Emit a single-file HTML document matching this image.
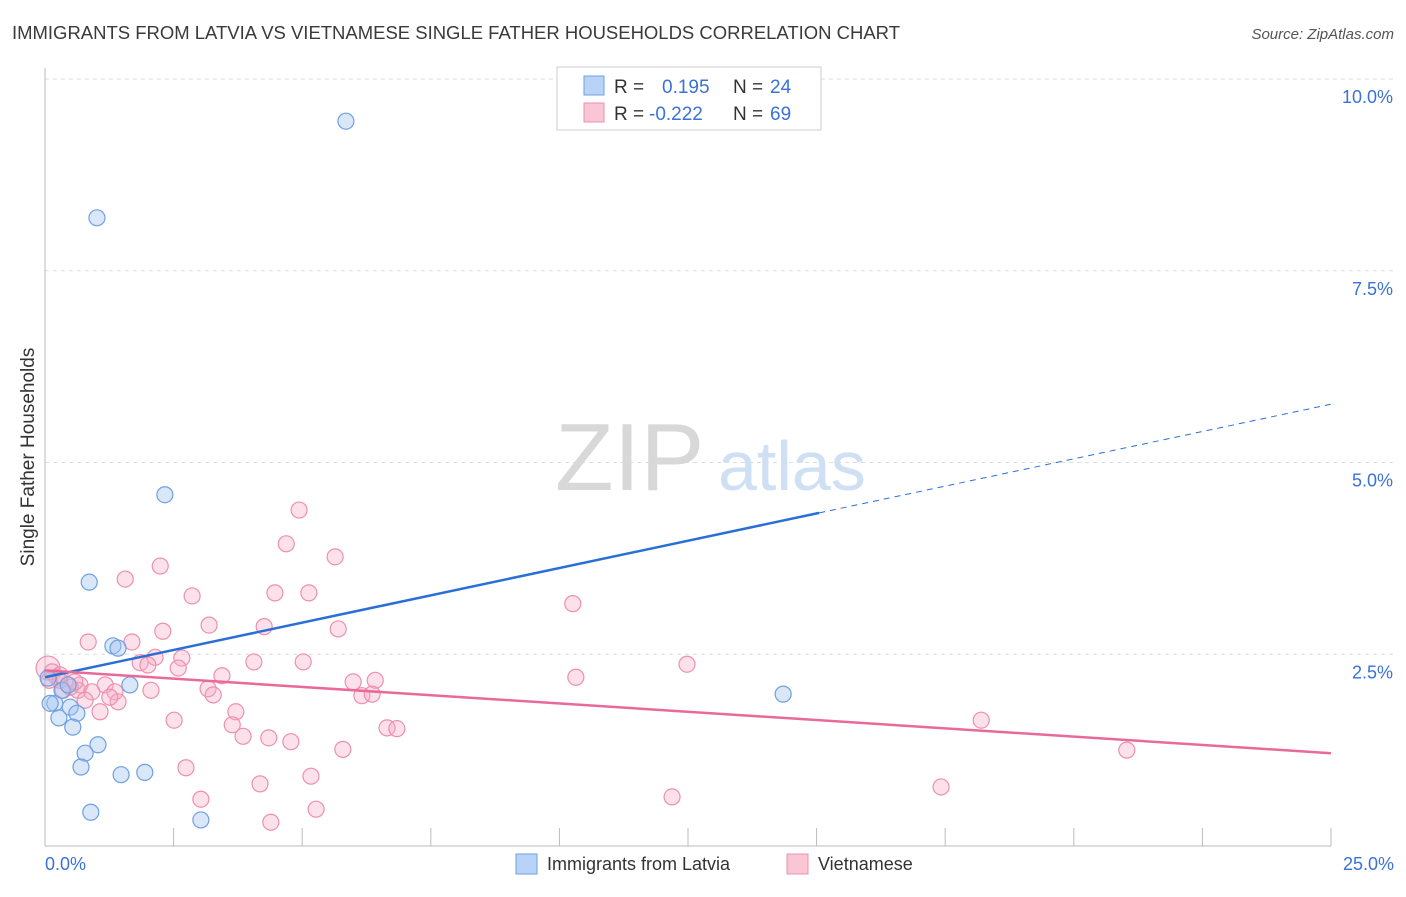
<!DOCTYPE html>
<html><head><meta charset="utf-8"><style>
body{margin:0;background:#fff;font-family:"Liberation Sans",sans-serif}
svg text{font-family:"Liberation Sans",sans-serif}
</style></head><body>
<svg id="c" width="1406" height="892">
<text x="12" y="39" font-size="18" fill="#3a3a3a" textLength="888" lengthAdjust="spacingAndGlyphs">IMMIGRANTS FROM LATVIA VS VIETNAMESE SINGLE FATHER HOUSEHOLDS CORRELATION CHART</text>
<text x="1394" y="39" font-size="15" fill="#555" font-style="italic" text-anchor="end">Source: ZipAtlas.com</text>
<text x="34" y="457" font-size="19" fill="#333" text-anchor="middle" transform="rotate(-90 34 457)">Single Father Households</text>
<g id="grid"></g>
<g id="ticks"></g>
<text x="555" y="490" font-size="96" fill="#d8d8d8" font-family="Liberation Serif">ZIP</text>
<text x="718" y="490" font-size="70" fill="#cfe0f4">atlas</text>
<g id="pts"></g>
<g id="lines"></g>
<g>
<rect x="557" y="67" width="264" height="63" fill="#fff" stroke="#ccc"/>
<rect x="584" y="76" width="20" height="19" fill="#b8d3f5" stroke="#6fa0e0"/>
<rect x="584" y="103" width="20" height="19" fill="#f9c6d6" stroke="#ee8fae"/>
<text x="614" y="93" font-size="19" fill="#333">R =</text>
<text x="662" y="93" font-size="19" fill="#3a72d8">0.195</text>
<text x="733" y="93" font-size="19" fill="#333">N =</text>
<text x="770" y="93" font-size="19" fill="#3a72d8">24</text>
<text x="614" y="120" font-size="19" fill="#333">R =</text>
<text x="649" y="120" font-size="19" fill="#3a72d8">-0.222</text>
<text x="733" y="120" font-size="19" fill="#333">N =</text>
<text x="770" y="120" font-size="19" fill="#3a72d8">69</text>
</g>
<g>
<rect x="516" y="854" width="21" height="20" fill="#b8d3f5" stroke="#6fa0e0"/>
<text x="547" y="870" font-size="18" fill="#333">Immigrants from Latvia</text>
<rect x="787" y="854" width="21" height="20" fill="#f9c6d6" stroke="#ee8fae"/>
<text x="818" y="870" font-size="18" fill="#333">Vietnamese</text>
</g>
</svg>
<script>
const blueX=[5.85,1.01,2.33,0.86,1.32,1.42,1.65,0.06,0.19,0.10,0.33,0.45,0.49,0.62,0.27,0.54,1.03,0.78,0.70,1.48,1.94,0.89,3.03,14.35];
const blueY=[9.45,8.19,4.58,3.44,2.61,2.58,2.10,2.19,1.86,1.86,2.03,2.10,1.81,1.73,1.67,1.55,1.32,1.21,1.03,0.93,0.96,0.44,0.34,1.98];
const pinkX=[0.06,4.94,4.69,5.64,2.24,1.56,2.86,4.47,5.13,10.26,3.19,4.26,2.29,5.70,0.84,1.69,2.14,2.66,1.85,2.00,4.06,5.02,12.48,2.59,3.44,10.32,5.99,6.42,0.14,0.23,0.29,0.68,1.17,0.64,0.91,1.36,3.17,2.06,3.27,6.16,6.36,1.42,1.07,3.71,2.51,3.64,18.20,6.65,6.84,3.85,4.35,4.78,5.79,21.03,2.74,5.17,4.18,17.42,3.03,12.19,5.27,4.39,0.29,0.49,0.78,1.26,0.08,0.35,0.58];
const pinkY=[2.32,4.38,3.94,3.77,3.65,3.48,3.26,3.30,3.30,3.16,2.88,2.86,2.80,2.83,2.66,2.66,2.46,2.45,2.39,2.36,2.40,2.40,2.37,2.32,2.22,2.20,2.14,2.16,2.27,2.20,2.16,2.10,2.10,2.03,2.01,2.01,2.05,2.03,1.97,1.96,1.98,1.88,1.75,1.75,1.64,1.58,1.64,1.54,1.53,1.43,1.41,1.36,1.26,1.25,1.02,0.91,0.81,0.77,0.61,0.64,0.48,0.31,2.23,2.07,1.90,1.94,2.16,2.03,2.14];
const blueTrend=[2.20,0.1424]; const blueSolidEnd=[15.05];
const pinkTrend=[2.29,-0.0432];
const xTicks=[0,2.5,5,7.5,10,12.5,15,17.5,20,22.5,25];
const yTicks=[2.5,5,7.5,10];
const yTickLabels=["2.5%","5.0%","7.5%","10.0%"];
const NS="http://www.w3.org/2000/svg";
const sx=v=>45+v*(1286/25), sy=v=>846-v*(767/10);
function mk(p,t,a){const e=document.createElementNS(NS,t);for(const k in a)e.setAttribute(k,a[k]);p.appendChild(e);return e;}
const grid=document.getElementById('grid'),ticks=document.getElementById('ticks');
yTicks.forEach((v,i)=>{
 const l=mk(grid,'line',{x1:45,x2:1394,y1:sy(v),y2:sy(v),stroke:'#ddd','stroke-dasharray':'4,4'});
 
 
 const t=mk(ticks,'text',{x:1393,y:sy(v)+24,'font-size':18,fill:'#3a72d8','text-anchor':'end'});t.textContent=yTickLabels[i];
 
 
});
mk(ticks,'line',{x1:45,x2:45,y1:68,y2:846,stroke:'#bbb'});
mk(ticks,'line',{x1:45,x2:1331,y1:846,y2:846,stroke:'#bbb'});
xTicks.forEach(v=>{const l=mk(ticks,'line',{x1:sx(v),x2:sx(v),y1:828,y2:846,stroke:'#bbb'});
 
 });
let t=mk(ticks,'text',{x:45,y:870,'font-size':18,fill:'#3a72d8'});t.textContent=xTicks[0].toFixed(1)+'%';


t=mk(ticks,'text',{x:1394,y:870,'font-size':18,fill:'#3a72d8','text-anchor':'end'});t.textContent=xTicks[xTicks.length-1].toFixed(1)+'%';


const pts=document.getElementById('pts');
pinkX.forEach((x,i)=>{const c=mk(pts,'circle',{cx:sx(x),cy:sy(pinkY[i]),r:i===0?12:8,fill:'rgba(246,170,195,0.35)',stroke:'#ee8fae','stroke-width':1.2});
 
 });
blueX.forEach((x,i)=>{const c=mk(pts,'circle',{cx:sx(x),cy:sy(blueY[i]),r:8,fill:'rgba(160,195,240,0.4)',stroke:'#6fa0e0','stroke-width':1.2});
 
 });
const lines=document.getElementById('lines');
const bf=x=>blueTrend[0]+blueTrend[1]*x, pf=x=>pinkTrend[0]+pinkTrend[1]*x;
let l=mk(lines,'line',{x1:sx(0),y1:sy(bf(0)),x2:sx(blueSolidEnd[0]),y2:sy(bf(blueSolidEnd[0])),stroke:'#2a6fd6','stroke-width':2.5});


l=mk(lines,'line',{x1:sx(blueSolidEnd[0]),y1:sy(bf(blueSolidEnd[0])),x2:sx(25),y2:sy(bf(25)),stroke:'#2a6fd6','stroke-width':1,'stroke-dasharray':'6,5'});


l=mk(lines,'line',{x1:sx(0),y1:sy(pf(0)),x2:sx(25),y2:sy(pf(25)),stroke:'#e8699a','stroke-width':2.5});


</script>
</body></html>
